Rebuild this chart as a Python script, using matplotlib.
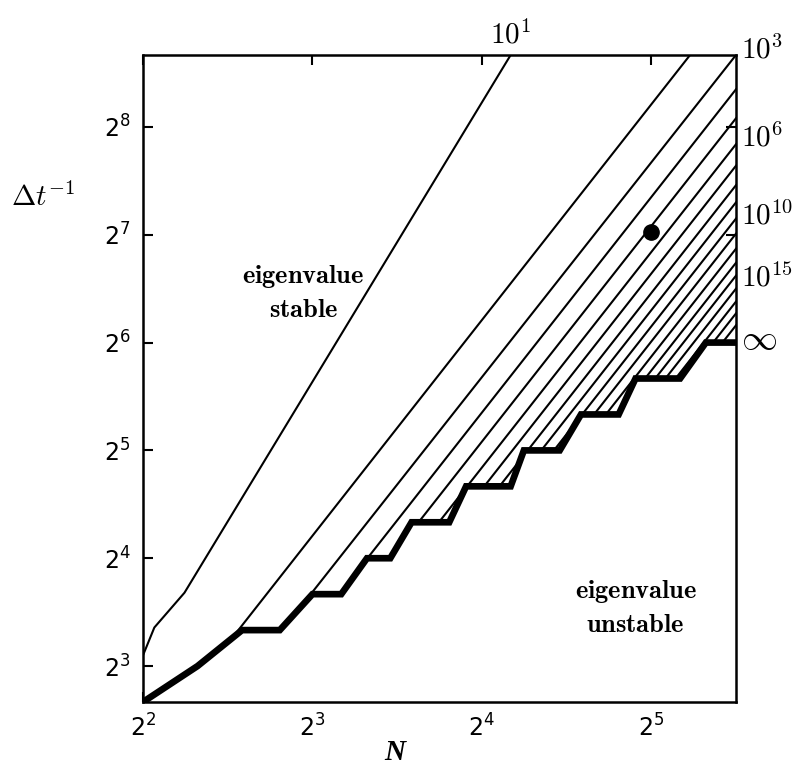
import numpy as np
import matplotlib.pyplot as plt
from matplotlib.ticker import FixedLocator, NullLocator
import matplotlib.transforms as mtransforms

plt.rcParams['mathtext.fontset'] = 'cm'

# stability boundary (thick staircase), N versus 1/dt
stair_N = [4, 5, 6, 7, 8, 9, 10, 11, 12, 13, 14, 15, 16, 17, 18, 19, 20, 21, 22,
           24, 26, 28, 30, 32, 36, 40, 45.25]
stair_dt = [6.35, 8.0, 10.08, 10.08, 12.7, 12.7, 16.0, 16.0, 20.16, 20.16, 20.16,
            25.4, 25.4, 25.4, 25.4, 32.0, 32.0, 32.0, 32.0, 40.32, 40.32, 40.32,
            50.8, 50.8, 50.8, 64.0, 64.0]

# 10^1 contour
c1_N = [4, 4.19, 4.74, 18.0]
c1_dt = [8.57, 10.25, 12.82, 406.4]

# contours 10^2 ... 10^18 (start on lower edge, end on top / right edge)
lo_N = [4.69, 5.61, 6.31, 6.93, 7.53, 8.08, 8.60, 9.09, 9.57, 10.05, 10.55,
        11.03, 11.50, 11.99, 12.50, 12.99, 13.49]
lo_dt = [6.35] * 17
hi_N = [37.5, 45.25, 45.25, 45.25, 45.25, 45.25, 45.25, 45.25, 45.25, 45.25,
        45.25, 45.25, 45.25, 45.25, 45.25, 45.25, 45.25]
hi_dt = [406.4, 406.4, 326, 270.6, 229, 199.5, 176, 157.6, 142, 128.9, 117,
         106.9, 98.4, 90.5, 83.3, 77.2, 71.5]

# labels on the right side
rlab_txt = [r'$10^3$', r'$10^6$', r'$10^{10}$', r'$10^{15}$', r'$\infty$']
rlab_dt = [419, 239, 144, 97, 65.3]

dot_N, dot_dt = 32, 130

xticks = [4, 8, 16, 32]
xticklabels = [r'$2^{2}$', r'$2^{3}$', r'$2^{4}$', r'$2^{5}$']
yticks = [8, 16, 32, 64, 128, 256]
yticklabels = [r'$2^{3}$', r'$2^{4}$', r'$2^{5}$', r'$2^{6}$', r'$2^{7}$', r'$2^{8}$']

fig = plt.figure(figsize=(7.96, 7.66), dpi=100)
ax = fig.add_axes([143/796, 64/766, 593/796, 647/766])
ax.set_xscale('log', base=2)
ax.set_yscale('log', base=2)
ax.set_xlim(4, 45.25)
ax.set_ylim(6.35, 406.4)

# thin contours
for i in range(len(lo_N)):
    ax.plot([lo_N[i], hi_N[i]], [lo_dt[i], hi_dt[i]], color='black', lw=1.5, zorder=1)
ax.plot(c1_N, c1_dt, color='black', lw=1.5, zorder=3)

# hide the part below the boundary, then draw the boundary
ax.fill_between(stair_N, 6.35, stair_dt, color='white', lw=0, zorder=2)
ax.plot(stair_N, stair_dt, color='black', lw=4.8, solid_joinstyle='miter', zorder=4)

ax.plot(dot_N, dot_dt, 'o', color='black', ms=11, zorder=5)

for s in ax.spines.values():
    s.set_linewidth(1.8)
    s.set_zorder(6)

ax.xaxis.set_major_locator(FixedLocator(xticks))
ax.yaxis.set_major_locator(FixedLocator(yticks))
ax.xaxis.set_minor_locator(NullLocator())
ax.yaxis.set_minor_locator(NullLocator())
ax.set_xticklabels(xticklabels, fontsize=17, math_fontfamily='dejavusans')
ax.set_yticklabels(yticklabels, fontsize=17, math_fontfamily='dejavusans')
ax.tick_params(which='both', direction='in', length=7, width=1.5,
               top=True, right=True, pad=9)

tr = mtransforms.blended_transform_factory(ax.transAxes, ax.transData)
for t, y in zip(rlab_txt, rlab_dt):
    fs = 26 if t == r'$\infty$' else 21
    ax.text(1.008, y, t, transform=tr, fontsize=fs, ha='left', va='center', clip_on=False)

ax.annotate(r'$10^1$', xy=(18, 406.4), xytext=(0, 4), textcoords='offset points',
            fontsize=21, ha='center', va='bottom', annotation_clip=False)

ax.text(7.7, 88, '$\\mathbf{eigenvalue}$\n$\\mathbf{stable}$', fontsize=19,
        ha='center', va='center', linespacing=1.35)
ax.text(30, 11.6, '$\\mathbf{eigenvalue}$\n$\\mathbf{unstable}$', fontsize=19,
        ha='center', va='center', linespacing=1.35)

fig.text(0.054, 0.742, r'$\Delta t^{-1}$', fontsize=21, ha='center', va='center')
fig.text(0.496, 0.018, 'N', fontsize=21, family='Liberation Serif', style='italic',
         weight='bold', ha='center', va='center')

fig.savefig('out.png', dpi=100)
